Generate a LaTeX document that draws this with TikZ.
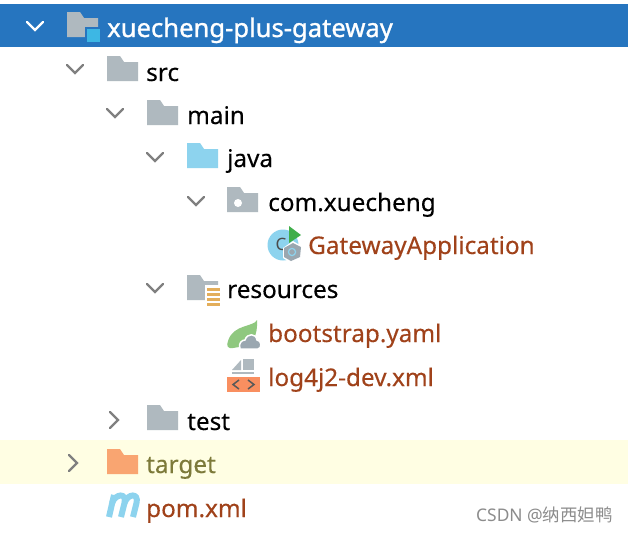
\documentclass[tikz,border=0pt]{standalone}
\usepackage{fontspec}
\setmainfont[FakeBold=0.25]{Noto Sans}
\newfontfamily\rootf[FakeBold=1.1]{Noto Sans}
\newfontfamily\plainf{Noto Sans}
\newfontfamily\cjkf{Noto Sans CJK SC}
\definecolor{selblue}{HTML}{2675BF}
\definecolor{foldgray}{HTML}{AFB9BF}
\definecolor{javablue}{HTML}{8DD3EE}
\definecolor{tgtbg}{HTML}{FFFEE3}
\definecolor{tgtfold}{HTML}{F9A571}
\definecolor{tgttext}{HTML}{7D7A3A}
\definecolor{modtext}{HTML}{A0421A}
\definecolor{chev}{HTML}{808080}
\definecolor{lblue}{HTML}{3DB7E4}
\definecolor{resor}{HTML}{E3AE5B}
\definecolor{leaf}{HTML}{8FC87F}
\definecolor{cloudg}{HTML}{9AA7B0}
\definecolor{xmlor}{HTML}{F98F60}
\definecolor{pgreen}{HTML}{3FAE4A}
\tikzset{
  x=1pt,y=-1pt,
  lab/.style={anchor=base west,inner sep=0pt,font=\fontsize{24.3}{27}\selectfont,text=black},
  mod/.style={lab,text=modtext},
  chevline/.style={draw=chev,line width=2.2pt,line cap=round,line join=miter},
  pics/fold/.style={code={
    \fill[#1] (0,0) -- (13,0) -- (17,6) -- (31,6) -- (31,25) -- (0,25) -- cycle;
  }},
  pics/cdown/.style={code={\draw[chevline] (-8,-4) -- (0,4) -- (8,-4);}},
  pics/cright/.style={code={\draw[chevline] (-4,-8) -- (4,0) -- (-4,8);}},
}
\begin{document}
\begin{tikzpicture}
\useasboundingbox (0,0) rectangle (628,533);
\fill[white] (0,0) rectangle (628,533);
\fill[selblue] (0,4) rectangle (628,47);
\fill[tgtbg] (0,440) rectangle (628,484);
% chevrons
\draw[chevline,draw=white] (27,22) -- (35,30) -- (43,22);
\pic at (75,69) {cdown};
\pic at (115,113) {cdown};
\pic at (155,157) {cdown};
\pic at (196,201) {cdown};
\pic at (155,288) {cdown};
\pic at (114,420) {cright};
\pic at (73,463) {cright};
% folders
\pic at (67,12) {fold=foldgray};
\fill[selblue] (85,27) rectangle (101,44);
\fill[lblue] (87,29) rectangle (100,42);
\pic at (107,56) {fold=foldgray};
\pic at (147,100) {fold=foldgray};
\pic at (187,143) {fold=javablue};
\pic at (227,187) {fold=foldgray};
\fill[white] (238,203) circle (4);
\pic at (187,275) {fold=foldgray};
\fill[white] (205,285) rectangle (221,306);
\foreach \yy in {288,293,298,303} \fill[resor] (207,\yy) rectangle (220,\yy+2.6);
\pic at (147,405) {fold=foldgray};
\pic at (107,449) {fold=tgtfold};
% class icon
\fill[javablue] (283,245) circle (15.5);
\node[anchor=center,inner sep=0pt,font=\plainf\fontsize{17}{18}\selectfont,text=black!70] (cicon) at (281,244) {C};
\fill[pgreen] (289,226) -- (301,235) -- (289,243) -- cycle;
\fill[white] (283,248) -- (293,241) -- (303,247) -- (302,258) -- (291,263) -- (283,258) -- cycle;
\fill[cloudg] (284,248) -- (293,243) -- (301,247) -- (300,257) -- (291,261) -- (284,257) -- cycle;
\draw[javablue,line width=1.2pt] (292,252) circle (3.6);
% spring leaf
\fill[leaf] (257,320) .. controls (254,327) and (233,324) .. (228,341) .. controls (226,346) and (228,349) .. (233,348) -- (245,346) .. controls (252,344) and (258,336) .. (257,320) -- cycle;
\fill[cloudg,draw=white,line width=1.5pt] (240,349) .. controls (238,343) and (242,340) .. (245,340) .. controls (247,333) and (256,333) .. (257,340) .. controls (262,340) and (262,349) .. (258,349) -- cycle;
% xml icon
\fill[foldgray] (241,360) -- (241,370) -- (232,370) -- cycle;
\fill[foldgray] (243,359) rectangle (254,370);
\fill[foldgray] (232,372) rectangle (254,374);
\fill[xmlor] (227,377) rectangle (260,392);
\draw[draw=black!65,line width=1.5pt] (239,380) -- (233,384.5) -- (239,389);
\draw[draw=black!65,line width=1.5pt] (248,380) -- (254,384.5) -- (248,389);
% maven icon
\draw[javablue,line width=6pt] (109,517) -- (114,495);
\draw[javablue,line width=6pt] (112,503) .. controls (116,493) and (127,493) .. (124.5,503) -- (121,517);
\draw[javablue,line width=6pt] (124.5,503) .. controls (128,493) and (139,493) .. (136.5,503) -- (133,517);
% labels
\node[lab,text=white,font=\rootf\fontsize{25.6}{28}\selectfont] (root) at (107,37) {xuecheng-plus-gateway};
\node[lab] (src) at (146,81) {src};
\node[lab] (main) at (187,124) {main};
\node[lab] (java) at (227,167) {java};
\node[lab] (com) at (268,211) {com.xuecheng};
\node[mod] (app) at (308,254) {GatewayApplication};
\node[lab] (res) at (227,298) {resources};
\node[mod] (boot) at (268,342) {bootstrap.yaml};
\node[mod] (log) at (268,386) {log4j2-dev.xml};
\node[lab] (test) at (187,430) {test};
\node[lab,text=tgttext] (target) at (146,473) {target};
\node[mod] (pom) at (146,517) {pom.xml};
\node[anchor=base west,inner sep=0pt,font=\plainf\fontsize{17.4}{19}\selectfont,text=black!45] (wm) at (476,521) {CSDN @{\cjkf 纳西妲鸭}};
\end{tikzpicture}
\end{document}
